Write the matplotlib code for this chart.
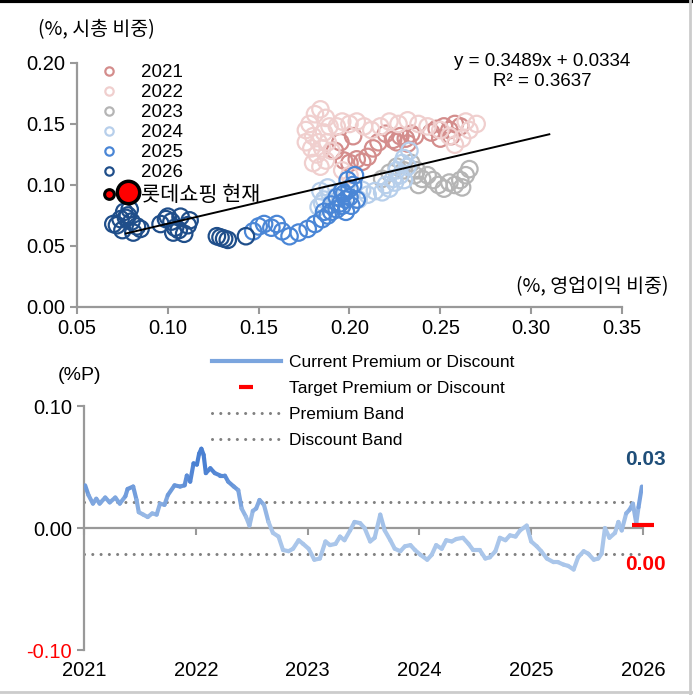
#!/usr/bin/env python
"""Lotte Shopping: market-cap share vs operating-profit share, and premium/discount."""
import numpy as np
import matplotlib
matplotlib.use("Agg")
import matplotlib.pyplot as plt
from matplotlib.collections import LineCollection
from matplotlib.colors import to_rgb
from matplotlib.lines import Line2D
from matplotlib.font_manager import FontProperties

NARROW = ["Liberation Sans Narrow", "Liberation Sans", "Noto Sans CJK KR"]
KOREAN = ["Noto Sans CJK KR", "DejaVu Sans"]
plt.rcParams["font.family"] = NARROW

# ---- scatter data (x: operating profit share, y: market cap share) ----
years = ["2021", "2022", "2023", "2024", "2025", "2026"]
year_colors = ["#d48d8c", "#f0cfce", "#b5b5b5", "#b7cfeb", "#4a86d6", "#1f4e8a"]

x_2021 = [0.192, 0.195, 0.197, 0.200, 0.204, 0.207, 0.210, 0.202, 0.213, 0.216,
          0.220, 0.224, 0.228, 0.231, 0.234, 0.226, 0.236, 0.245, 0.248, 0.252,
          0.255, 0.258, 0.261, 0.256, 0.250, 0.232]
y_2021 = [0.128, 0.135, 0.120, 0.118, 0.121, 0.119, 0.123, 0.140, 0.130, 0.135,
          0.142, 0.137, 0.140, 0.138, 0.142, 0.135, 0.140, 0.143, 0.146, 0.148,
          0.145, 0.150, 0.148, 0.140, 0.138, 0.134]

x_2022 = [0.178, 0.181, 0.184, 0.187, 0.176, 0.180, 0.183, 0.186, 0.189, 0.179,
          0.182, 0.185, 0.188, 0.180, 0.184, 0.187, 0.190, 0.176, 0.193, 0.196,
          0.200, 0.204, 0.208, 0.212, 0.217, 0.222, 0.227, 0.232, 0.238, 0.243,
          0.250, 0.255, 0.258, 0.262, 0.266, 0.270, 0.264, 0.196, 0.200]
y_2022 = [0.150, 0.158, 0.162, 0.155, 0.145, 0.140, 0.135, 0.143, 0.148, 0.130,
          0.125, 0.130, 0.135, 0.118, 0.115, 0.120, 0.128, 0.135, 0.148, 0.152,
          0.150, 0.152, 0.148, 0.145, 0.148, 0.152, 0.150, 0.153, 0.150, 0.148,
          0.145, 0.140, 0.133, 0.138, 0.145, 0.150, 0.152, 0.112, 0.108]

x_2023 = [0.218, 0.222, 0.226, 0.230, 0.234, 0.236, 0.240, 0.243, 0.238, 0.246,
          0.249, 0.252, 0.255, 0.258, 0.261, 0.264, 0.266, 0.262, 0.237]
y_2023 = [0.105, 0.110, 0.115, 0.112, 0.118, 0.108, 0.105, 0.108, 0.100, 0.104,
          0.100, 0.097, 0.102, 0.100, 0.104, 0.108, 0.113, 0.098, 0.112]

x_2024 = [0.183, 0.186, 0.189, 0.184, 0.188, 0.192, 0.185, 0.205, 0.210, 0.214,
          0.218, 0.222, 0.225, 0.220, 0.228, 0.230, 0.226, 0.232, 0.230, 0.233,
          0.229, 0.224, 0.207]
y_2024 = [0.082, 0.088, 0.093, 0.095, 0.098, 0.090, 0.085, 0.088, 0.092, 0.095,
          0.094, 0.097, 0.102, 0.100, 0.108, 0.104, 0.112, 0.115, 0.122, 0.128,
          0.118, 0.105, 0.096]

x_2025 = [0.147, 0.150, 0.153, 0.157, 0.160, 0.163, 0.167, 0.172, 0.177, 0.181,
          0.185, 0.188, 0.190, 0.193, 0.196, 0.198, 0.200, 0.197, 0.200, 0.202,
          0.195, 0.193, 0.198, 0.201, 0.204, 0.196, 0.199, 0.203, 0.190, 0.186]
y_2025 = [0.062, 0.066, 0.068, 0.065, 0.068, 0.062, 0.058, 0.061, 0.064, 0.068,
          0.072, 0.075, 0.078, 0.080, 0.083, 0.088, 0.090, 0.093, 0.097, 0.100,
          0.085, 0.090, 0.078, 0.083, 0.088, 0.095, 0.104, 0.108, 0.084, 0.078]

x_2026 = [0.070, 0.074, 0.076, 0.078, 0.080, 0.075, 0.072, 0.079, 0.083, 0.085,
          0.077, 0.081, 0.096, 0.099, 0.102, 0.104, 0.106, 0.109, 0.111, 0.100,
          0.103, 0.107, 0.112, 0.127, 0.129, 0.131, 0.133, 0.143]
y_2026 = [0.068, 0.072, 0.078, 0.075, 0.070, 0.063, 0.067, 0.080, 0.066, 0.064,
          0.073, 0.061, 0.068, 0.072, 0.070, 0.065, 0.063, 0.060, 0.067, 0.074,
          0.061, 0.074, 0.071, 0.058, 0.057, 0.056, 0.055, 0.058]

current_x = [0.078]
current_y = [0.094]

slope, intercept, r2 = 0.3489, 0.0334, 0.3637
fit_range = [0.077, 0.310]

# ---- premium / discount time series ----
ts_year = [2021.01, 2021.04, 2021.08, 2021.11, 2021.14, 2021.19, 2021.23, 2021.28, 2021.32, 2021.37,
           2021.39, 2021.44, 2021.47, 2021.49, 2021.53, 2021.57, 2021.61, 2021.65, 2021.68, 2021.72,
           2021.75, 2021.81, 2021.86, 2021.90, 2021.92, 2021.95, 2021.98, 2022.01, 2022.03, 2022.05,
           2022.07, 2022.09, 2022.13, 2022.17, 2022.22, 2022.26, 2022.29, 2022.34, 2022.38, 2022.41,
           2022.45, 2022.48, 2022.51, 2022.54, 2022.57, 2022.61, 2022.65, 2022.69, 2022.74, 2022.78,
           2022.83, 2022.87, 2022.92, 2022.96, 2023.01, 2023.06, 2023.11, 2023.16, 2023.20, 2023.25,
           2023.29, 2023.33, 2023.38, 2023.42, 2023.47, 2023.51, 2023.56, 2023.60, 2023.65, 2023.69,
           2023.74, 2023.78, 2023.83, 2023.87, 2023.92, 2023.96, 2024.01, 2024.07, 2024.11, 2024.15,
           2024.20, 2024.24, 2024.29, 2024.33, 2024.39, 2024.44, 2024.48, 2024.54, 2024.59, 2024.63,
           2024.68, 2024.72, 2024.77, 2024.81, 2024.86, 2024.90, 2024.96, 2025.00, 2025.05, 2025.09,
           2025.14, 2025.20, 2025.24, 2025.29, 2025.33, 2025.38, 2025.42, 2025.47, 2025.51, 2025.56,
           2025.60, 2025.63, 2025.66, 2025.70, 2025.75, 2025.78, 2025.81, 2025.85, 2025.88, 2025.91,
           2025.94, 2025.96, 2025.99]
ts_value = [0.035, 0.027, 0.020, 0.024, 0.020, 0.025, 0.021, 0.025, 0.020, 0.026,
            0.032, 0.034, 0.023, 0.013, 0.011, 0.009, 0.012, 0.011, 0.020, 0.019,
            0.027, 0.035, 0.034, 0.035, 0.043, 0.038, 0.053, 0.052, 0.061, 0.065,
            0.060, 0.045, 0.049, 0.045, 0.043, 0.043, 0.038, 0.034, 0.031, 0.016,
            0.009, 0.002, 0.014, 0.016, 0.023, 0.019, 0.005, -0.004, -0.007, -0.018,
            -0.019, -0.017, -0.010, -0.013, -0.017, -0.026, -0.025, -0.011, -0.014, -0.013,
            -0.007, -0.010, -0.002, 0.005, 0.004, 0.000, -0.011, -0.008, 0.011, -0.002,
            -0.010, -0.017, -0.019, -0.015, -0.014, -0.018, -0.022, -0.026, -0.022, -0.014,
            -0.017, -0.010, -0.011, -0.009, -0.008, -0.013, -0.018, -0.018, -0.025, -0.024,
            -0.019, -0.008, -0.010, -0.006, -0.007, -0.002, 0.002, -0.011, -0.015, -0.019,
            -0.025, -0.028, -0.028, -0.030, -0.031, -0.034, -0.024, -0.019, -0.021, -0.026,
            -0.025, -0.021, 0.000, -0.008, -0.004, 0.005, -0.002, 0.012, 0.015, 0.020,
            0.004, 0.017, 0.034]
premium_band = 0.021
discount_band = -0.021
target_value = 0.0025
target_span = [2025.90, 2026.10]
current_label = "0.03"
target_label = "0.00"
year_ticks = [2021, 2022, 2023, 2024, 2025, 2026]

AXIS_GRAY = "#999999"
TICK_SIZE = 14.5

fig = plt.figure(figsize=(6.93, 6.95), dpi=100)

# ================= top: scatter =================
ax1 = fig.add_axes([0.1111, 0.5583, 0.7864, 0.3511])
series = [(x_2021, y_2021), (x_2022, y_2022), (x_2023, y_2023),
          (x_2024, y_2024), (x_2025, y_2025), (x_2026, y_2026)]
for (xs, ys), yr, col in zip(series, years, year_colors):
    ax1.scatter(xs, ys, s=140, facecolors="none", edgecolors=col, linewidths=1.6,
                label=yr, zorder=2)
ax1.scatter(current_x, current_y, s=260, color="#ff0000", edgecolors="black",
            linewidths=2.5, zorder=4)

fx = np.array(fit_range)
ax1.plot(fx, slope * fx + intercept, color="black", lw=1.4, zorder=3)

ax1.set_xlim(0.05, 0.35)
ax1.set_ylim(0.0, 0.20)
ax1.set_xticks(np.arange(0.05, 0.351, 0.05))
ax1.set_yticks(np.arange(0.0, 0.201, 0.05))
ax1.xaxis.set_major_formatter(matplotlib.ticker.FormatStrFormatter("%.2f"))
ax1.yaxis.set_major_formatter(matplotlib.ticker.FormatStrFormatter("%.2f"))
for side in ["top", "right"]:
    ax1.spines[side].set_visible(False)
for side in ["left", "bottom"]:
    ax1.spines[side].set_color(AXIS_GRAY)
    ax1.spines[side].set_linewidth(1.6)
ax1.tick_params(colors=AXIS_GRAY, labelcolor="black", labelsize=TICK_SIZE,
                length=5, width=1.5)

ax1.text(0.782, 0.897, f"y = {slope:.4f}x + {intercept:.4f}\nR² = {r2:.4f}",
         transform=fig.transFigure, ha="center", va="center", fontsize=13.5,
         linespacing=1.2)

fig.text(0.055, 0.957, "(%, 시총 비중)", family=KOREAN, fontsize=14, va="center")
fig.text(0.964, 0.587, "(%, 영업이익 비중)", family=KOREAN, fontsize=14,
         va="center", ha="right")

handles = [Line2D([], [], ls="none", marker="o", markersize=6, mfc="none",
                  mec=c, mew=1.6) for c in year_colors]
handles.append(Line2D([], [], ls="none", marker="o", markersize=7, mfc="#ff0000",
                      mec="black", mew=2.2))
labels = years + ["롯데쇼핑 현재"]
leg1 = fig.legend(handles, labels, loc="upper left", bbox_to_anchor=(0.130, 0.921),
                  frameon=False, borderpad=0, labelspacing=0.15, handlelength=1.0,
                  handletextpad=1.2, prop=FontProperties(family=NARROW, size=13.5))
leg1.get_texts()[-1].set_fontproperties(FontProperties(family=KOREAN, size=15))

# ================= bottom: premium / discount =================
ax2 = fig.add_axes([0.1212, 0.0647, 0.8066, 0.3511])
t = np.array(ts_year)
v = np.array(ts_value)
pts = np.column_stack([t, v]).reshape(-1, 1, 2)
segs = np.concatenate([pts[:-1], pts[1:]], axis=1)
light = np.array(to_rgb("#aac6ea"))
dark = np.array(to_rgb("#4a80d2"))
frac = np.clip(((v[:-1] + v[1:]) / 2) / 0.05, 0, 1)[:, None]
cols = light * (1 - frac) + dark * frac
lc = LineCollection(segs, colors=cols, linewidths=3.0, capstyle="round",
                    joinstyle="round", zorder=3)
ax2.add_collection(lc)

dot_style = (0, (0.01, 2.7))
ax2.axhline(premium_band, color="#808080", lw=2.2, ls=dot_style,
            dash_capstyle="round", zorder=2)
ax2.axhline(discount_band, color="#808080", lw=2.2, ls=dot_style,
            dash_capstyle="round", zorder=2)
ax2.plot(target_span, [target_value, target_value], color="#ff0000", lw=3,
         solid_capstyle="butt", zorder=4, clip_on=False)

ax2.set_xlim(2021, 2026)
ax2.set_ylim(-0.10, 0.10)
ax2.set_yticks([-0.10, 0.0, 0.10])
ax2.yaxis.set_major_formatter(matplotlib.ticker.FormatStrFormatter("%.2f"))
ax2.set_xticks(year_ticks)
ax2.spines["top"].set_visible(False)
ax2.spines["right"].set_visible(False)
ax2.spines["bottom"].set_position(("data", 0))
for side in ["left", "bottom"]:
    ax2.spines[side].set_color(AXIS_GRAY)
    ax2.spines[side].set_linewidth(1.6)
ax2.tick_params(colors=AXIS_GRAY, labelcolor="black", labelsize=TICK_SIZE,
                length=5, width=1.5)
ax2.tick_params(axis="x", labelbottom=False)
ax2.get_yticklabels()[0].set_color("#ff0000")

sec = ax2.secondary_xaxis("bottom")
sec.set_xticks(year_ticks)
sec.set_xticklabels([str(y) for y in year_ticks])
sec.spines["bottom"].set_visible(False)
sec.tick_params(length=0, labelsize=TICK_SIZE, pad=8)

ax2.text(2026.02, 0.056, current_label, color="#1f4e79", fontsize=15,
         fontweight="bold", ha="center", va="center", clip_on=False)
ax2.text(2026.02, -0.030, target_label, color="#ff0000", fontsize=15,
         fontweight="bold", ha="center", va="center", clip_on=False)

fig.text(0.115, 0.459, "(%P)", fontsize=14, ha="center", va="center")

leg_handles = [
    Line2D([], [], color="#7ba5de", lw=3),
    Line2D([], [], ls="none", marker="_", color="#ff0000", markersize=10, mew=3),
    Line2D([], [], color="#808080", lw=2.2, ls=dot_style, dash_capstyle="round"),
    Line2D([], [], color="#808080", lw=2.2, ls=dot_style, dash_capstyle="round"),
]
leg_labels = ["Current Premium or Discount", "Target Premium or Discount",
              "Premium Band", "Discount Band"]
fig.legend(leg_handles, leg_labels, loc="upper left", bbox_to_anchor=(0.293, 0.502),
           frameon=False, borderpad=0, labelspacing=0.62, handlelength=4.0,
           handletextpad=0.45, prop=FontProperties(family=NARROW, size=12.5))

# frame lines around the picture
fig.add_artist(Line2D([0, 1], [0.998, 0.998], color="black", lw=3,
                      transform=fig.transFigure))
fig.add_artist(Line2D([0.996, 0.996], [0, 1], color="#cccccc", lw=2,
                      transform=fig.transFigure))
fig.add_artist(Line2D([0, 1], [0.004, 0.004], color="#cccccc", lw=2,
                      transform=fig.transFigure))

fig.savefig("out.png", dpi=100)
